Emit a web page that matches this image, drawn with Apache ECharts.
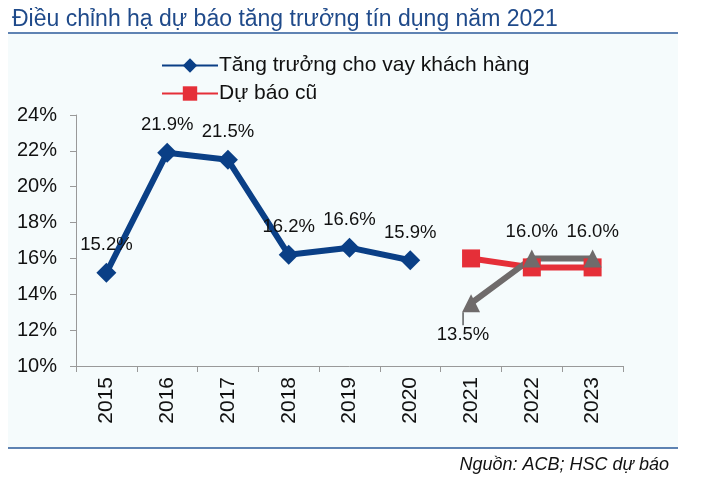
<!DOCTYPE html>
<html><head><meta charset="utf-8">
<script src="https://cdn.jsdelivr.net/npm/echarts@6/dist/echarts.min.js"></script>
<style>html,body{margin:0;padding:0;background:#fff}#c{width:706px;height:478px}</style>
</head><body><div id="c"></div>
<script>
const categories = ['2015','2016','2017','2018','2019','2020','2021','2022','2023'];
const actual = [15.2, 21.9, 21.5, 16.2, 16.6, 15.9, null, null, null];
const oldForecast = [null, null, null, null, null, null, 16.0, 15.5, 15.5];
const newForecast = [null, null, null, null, null, null, 13.5, 16.0, 16.0];
const yTicks = {min: 10, max: 24, interval: 2};

const font = 'Liberation Sans, Arial, sans-serif';
const labelBelowIndex = 6;
const newForecastData = newForecast.map((v, i) => i === labelBelowIndex
  ? v
  : {value: v, labelLine: {show: false}});

const chart = echarts.init(document.getElementById('c'));
chart.setOption({
  backgroundColor: '#ffffff',
  animation: false,
  textStyle: {fontFamily: font},
  title: [{
    text: 'Điều chỉnh hạ dự báo tăng trưởng tín dụng năm 2021',
    left: 7, top: 3,
    textStyle: {fontFamily: font, fontSize: 23, fontWeight: 'normal', color: '#1f4a8a'}
  }, {
    text: 'Nguồn: ACB; HSC dự báo',
    right: 32, top: 451,
    textStyle: {fontFamily: font, fontSize: 18, fontWeight: 'normal', fontStyle: 'italic', color: '#111'}
  }],
  graphic: [
    {type: 'rect', z: -10, shape: {x: 8, y: 34, width: 670, height: 414}, style: {fill: '#f5fbfc'}},
    {type: 'line', shape: {x1: 8, y1: 33, x2: 678, y2: 33}, style: {stroke: '#2a5a9a', lineWidth: 1.5}},
    {type: 'line', shape: {x1: 8, y1: 448, x2: 678, y2: 448}, style: {stroke: '#2a5a9a', lineWidth: 1.5}}
  ],
  legend: {
    orient: 'vertical', left: 156, top: 50, itemGap: 7,
    itemWidth: 56, itemHeight: 18,
    data: ['Tăng trưởng cho vay khách hàng', 'Dự báo cũ'],
    textStyle: {fontFamily: font, fontSize: 21, color: '#111', padding: [0,0,0,-4]}
  },
  grid: {left: 76, right: 83, top: 115, bottom: 112},
  xAxis: {
    type: 'category', data: categories,
    axisLine: {lineStyle: {color: '#999'}},
    axisTick: {show: true, length: 6, lineStyle: {color: '#999'}},
    axisLabel: {rotate: 90, fontSize: 21, color: '#111', margin: 11, fontFamily: font}
  },
  yAxis: {
    type: 'value', min: yTicks.min, max: yTicks.max, interval: yTicks.interval,
    axisLine: {show: true, lineStyle: {color: '#999'}},
    axisTick: {show: true, length: 6, lineStyle: {color: '#999'}},
    splitLine: {show: false},
    axisLabel: {fontSize: 20, color: '#111', margin: 19, fontFamily: font, formatter: v => v + '%'}
  },
  series: [
    {
      name: 'Tăng trưởng cho vay khách hàng', type: 'line', data: actual,
      symbol: 'diamond', symbolSize: 20,
      lineStyle: {width: 6, color: '#0a3f86'}, itemStyle: {color: '#0a3f86'},
      label: {show: true, position: 'top', distance: 8, fontSize: 18.5, color: '#111', fontFamily: font,
        formatter: p => p.value.toFixed(1) + '%'}
    },
    {
      name: 'Dự báo cũ', type: 'line', data: oldForecast,
      symbol: 'rect', symbolSize: 18,
      lineStyle: {width: 6, color: '#e52f38'}, itemStyle: {color: '#e52f38'}
    },
    {
      name: 'Dự báo mới', type: 'line', data: newForecastData,
      symbol: 'triangle', symbolSize: 18, z: 3,
      lineStyle: {width: 6, color: '#6f6b6b'}, itemStyle: {color: '#6f6b6b'},
      label: {show: true, position: 'top', distance: 8, fontSize: 18.5, color: '#111', fontFamily: font,
        formatter: p => p.value.toFixed(1) + '%'},
      labelLine: {show: true, lineStyle: {color: '#111', width: 1}},
      labelLayout: p => p.dataIndex === labelBelowIndex ? {dx: -8, dy: 58} : {}
    }
  ]
});
</script></body></html>
